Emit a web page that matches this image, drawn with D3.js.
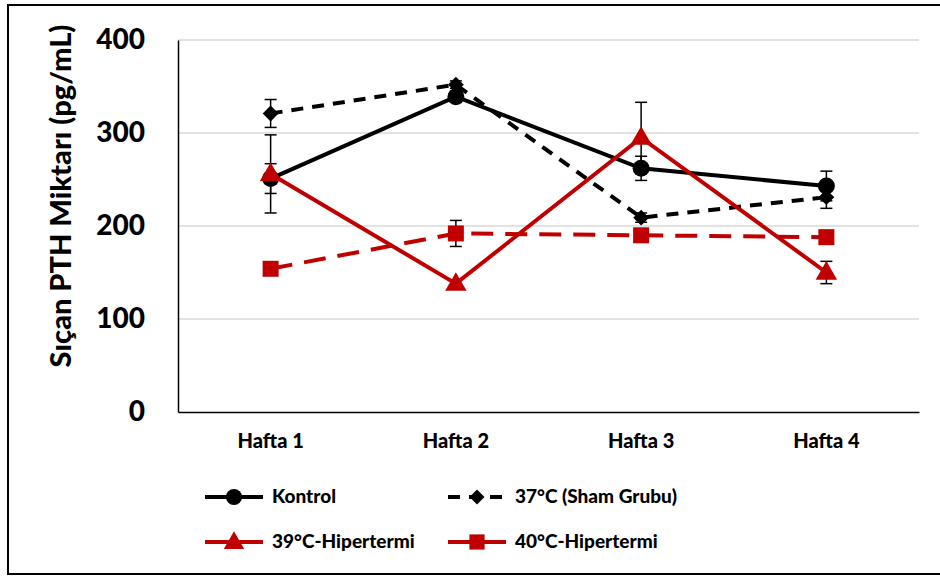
<!DOCTYPE html>
<html>
<head>
<meta charset="utf-8">
<script src="https://cdn.jsdelivr.net/npm/d3@7/dist/d3.min.js"></script>
<style>
  html, body { margin: 0; padding: 0; background: #fff; }
  svg { display: block; font-family: Lato, "Open Sans", sans-serif; font-weight: 900; }
</style>
</head>
<body>
<svg id="chart" width="940" height="577"></svg>
<script>
// Weekly rat PTH levels per group
const weeks = ["Hafta 1", "Hafta 2", "Hafta 3", "Hafta 4"];
const yTicks = [0, 100, 200, 300, 400];

const kontrol = [251, 339, 262, 243];
const kontrolErr = [16, 6, 13, 16];
const sham37 = [321, 352, 209, 231];
const sham37Err = [15, 4, 5, 12];
const hyper39 = [256, 138, 295, 150];
const hyper39Err = [42, 4, 38, 12];
const hyper40 = [154, 192, 190, 188];
const hyper40Err = [6, 14, 4, 4];

const RED = "#c00000";

const series = [
  { name: "Kontrol", values: kontrol, err: kontrolErr, color: "#000", dash: null, legendDash: null, marker: "circle" },
  { name: "37°C (Sham Grubu)", values: sham37, err: sham37Err, color: "#000", dash: "12,9", legendDash: "12,9", marker: "diamond" },
  { name: "39°C-Hipertermi", values: hyper39, err: hyper39Err, color: RED, dash: null, legendDash: null, marker: "triangle" },
  { name: "40°C-Hipertermi", values: hyper40, err: hyper40Err, color: RED, dash: "22,12", legendDash: "24,10", marker: "square" }
];

const svg = d3.select("#chart");

// outer frame
svg.append("rect").attr("x", 8).attr("y", 5).attr("width", 940).attr("height", 569)
  .attr("fill", "none").attr("stroke", "#000").attr("stroke-width", 2);

const plot = { left: 178, right: 919, top: 40, bottom: 412 };

const x = d3.scaleBand().domain(weeks).range([plot.left, plot.right]);
const y = d3.scaleLinear().domain([0, 400]).range([plot.bottom, plot.top]);

// gridlines
svg.append("g").selectAll("line").data(yTicks.filter(d => d > 0)).join("line")
  .attr("x1", plot.left).attr("x2", plot.right)
  .attr("y1", d => y(d)).attr("y2", d => y(d))
  .attr("stroke", "#d9d9d9").attr("stroke-width", 1.5);

// y axis
const yAxis = svg.append("g").attr("transform", `translate(${plot.left},0)`)
  .call(d3.axisLeft(y).tickValues(yTicks).tickSize(0).tickPadding(33));
yAxis.select(".domain").attr("stroke", "#000").attr("stroke-width", 1.5);
yAxis.selectAll("text").attr("font-size", 28).attr("font-family", "Lato, sans-serif")
  .attr("font-weight", 900).attr("fill", "#000");

// x axis
const xAxis = svg.append("g").attr("transform", `translate(0,${plot.bottom})`)
  .call(d3.axisBottom(x).tickSize(0).tickPadding(22));
xAxis.select(".domain").attr("stroke", "#000").attr("stroke-width", 1.5);
xAxis.selectAll("text").attr("font-size", 20).attr("font-family", "Lato, sans-serif")
  .attr("font-weight", 900).attr("fill", "#000");

// y axis title
svg.append("text")
  .attr("transform", "translate(64,196) rotate(-90)")
  .attr("text-anchor", "middle").attr("dominant-baseline", "middle")
  .attr("font-size", 29).attr("fill", "#000")
  .text("Sıçan PTH Miktarı (pg/mL)");

const cx = i => x(weeks[i]) + x.bandwidth() / 2;

function marker(g, type, color, px, py, scale = 1) {
  if (type === "circle") {
    g.append("circle").attr("cx", px).attr("cy", py).attr("r", 8.5 * scale).attr("fill", color);
  } else if (type === "diamond") {
    g.append("path").attr("transform", `translate(${px},${py})`)
      .attr("d", d3.symbol(d3.symbolDiamond2, 160 * scale * scale)()).attr("fill", color);
  } else if (type === "triangle") {
    g.append("path").attr("transform", `translate(${px},${py + 1})`)
      .attr("d", d3.symbol(d3.symbolTriangle, 200 * scale * scale)()).attr("fill", color);
  } else if (type === "square") {
    const s = 16 * scale;
    g.append("rect").attr("x", px - s / 2).attr("y", py - s / 2).attr("width", s).attr("height", s).attr("fill", color);
  }
}

const line = d3.line().x((d, i) => cx(i)).y(d => y(d));

// error bars
const errG = svg.append("g");
series.forEach(s => {
  s.values.forEach((v, i) => {
    const e = s.err[i];
    const px = cx(i);
    errG.append("line").attr("x1", px).attr("x2", px).attr("y1", y(v + e)).attr("y2", y(v - e))
      .attr("stroke", "#000").attr("stroke-width", 1.5);
    [v + e, v - e].forEach(t => {
      errG.append("line").attr("x1", px - 6).attr("x2", px + 6).attr("y1", y(t)).attr("y2", y(t))
        .attr("stroke", "#000").attr("stroke-width", 1.5);
    });
  });
});

// lines and markers
series.forEach(s => {
  const g = svg.append("g");
  g.append("path").datum(s.values).attr("d", line)
    .attr("fill", "none").attr("stroke", s.color).attr("stroke-width", 4)
    .attr("stroke-dasharray", s.dash);
  s.values.forEach((v, i) => marker(g, s.marker, s.color, cx(i), y(v)));
});

// legend
const legendPos = [
  { x: 205, y: 497 }, { x: 448, y: 497 },
  { x: 205, y: 542 }, { x: 448, y: 542 }
];
series.forEach((s, i) => {
  const p = legendPos[i];
  const g = svg.append("g");
  g.append("line").attr("x1", p.x).attr("x2", p.x + 58).attr("y1", p.y).attr("y2", p.y)
    .attr("stroke", s.color).attr("stroke-width", 4)
    .attr("stroke-dasharray", s.legendDash);
  marker(g, s.marker, s.color, p.x + 29, p.y, 0.95);
  g.append("text").attr("x", p.x + 67).attr("y", p.y + 1).attr("dominant-baseline", "middle")
    .attr("font-size", 19).attr("fill", "#000").text(s.name);
});
</script>
</body>
</html>
